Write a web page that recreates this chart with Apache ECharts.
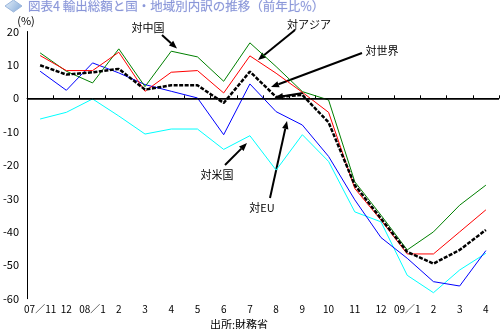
<!DOCTYPE html>
<html><head><meta charset="utf-8">
<script src="https://cdn.jsdelivr.net/npm/echarts@6/dist/echarts.min.js"></script>
<style>html,body{margin:0;padding:0;background:#fff}#c{width:500px;height:329px}</style>
</head><body><div id="c"></div>
<script>
var categories = ['07／11','12','08／1','2','3','4','5','6','7','8','9','10','11','12','09／1','2','3','4'];
var china  = [13.6, 8.1, 4.6, 14.8, 3.5, 14.1, 12.4, 5.1, 16.6, 9.5, 2.0, -0.5, -25.0, -35.0, -45.4, -40.0, -32.0, -26.0];
var asia   = [12.8, 8.3, 8.3, 13.8, 2.1, 7.8, 8.3, 1.6, 12.7, 7.5, 1.8, -4.2, -27.0, -36.5, -46.6, -46.6, -40.0, -33.4];
var world  = [9.9, 7.1, 7.8, 8.8, 2.6, 3.9, 3.9, -1.4, 8.0, 0.4, 1.0, -7.2, -26.0, -36.0, -46.0, -49.5, -45.4, -39.4];
var eu     = [8.1, 2.4, 10.6, 7.6, 4.1, 2.1, 0.1, -10.9, 4.3, -4.0, -8.0, -17.4, -30.4, -41.7, -47.9, -54.9, -56.2, -45.6];
var usa    = [-6.2, -4.2, -0.2, -5.3, -10.7, -9.2, -9.2, -15.3, -11.2, -21.5, -10.9, -18.9, -34.0, -37.0, -53.0, -58.2, -51.4, -46.4];
var yTicks = {min: -60, max: 20, interval: 10};
var FONT = '"Noto Sans CJK JP", sans-serif';

var chart = echarts.init(document.getElementById('c'), null, {renderer: 'canvas'});

function arrow(x1, y1, x2, y2) {
  var dx = x2 - x1, dy = y2 - y1, L = Math.sqrt(dx*dx + dy*dy);
  var ux = dx / L, uy = dy / L, hl = 8, hw = 3.2;
  var bx = x2 - ux*hl, by = y2 - uy*hl;
  return [
    {type: 'line', shape: {x1: x1, y1: y1, x2: bx, y2: by}, style: {stroke: '#000', lineWidth: 2}, silent: true},
    {type: 'polygon', shape: {points: [[x2, y2], [bx - uy*hw, by + ux*hw], [bx + uy*hw, by - ux*hw]]}, style: {fill: '#000'}, silent: true}
  ];
}
function txt(x, y, s, size, color) {
  return {type: 'text', x: x, y: y, style: {text: s, font: (size || 11) + 'px ' + FONT, fill: color || '#000', textAlign: 'center', textVerticalAlign: 'middle'}, silent: true};
}

var graphics = [];
graphics.push({type: 'polygon', shape: {points: [[13.5, 0], [22, 6], [13.5, 12], [5, 6]]},
  style: {fill: new echarts.graphic.LinearGradient(0, 0, 1, 1, [{offset: 0, color: '#e8f2fb'}, {offset: 1, color: '#7fa6d6'}]), stroke: '#9bb6dc', lineWidth: 1}, silent: true});
graphics.push({type: 'text', x: 28, y: 6.5, style: {text: '図表4 輸出総額と国・地域別内訳の推移（前年比%）', font: '12.5px ' + FONT, fill: '#8a96d8', textVerticalAlign: 'middle', stroke: '#dfe4f7', lineWidth: 0.5}, silent: true});
graphics.push(txt(26, 21, '(%)', 11));
graphics.push(txt(148, 28, '対中国', 11));
graphics.push(txt(309, 25, '対アジア', 11));
graphics.push(txt(382, 50.5, '対世界', 11));
graphics.push(txt(217, 175, '対米国', 11));
graphics.push(txt(262, 207.5, '対EU', 11));
graphics.push(txt(239, 324.5, '出所:財務省', 11));
graphics = graphics.concat(arrow(162, 35, 177, 48.5));
graphics = graphics.concat(arrow(295, 30, 258, 60));
graphics = graphics.concat(arrow(362, 53, 271, 87));
graphics = graphics.concat(arrow(303, 93, 275, 97.5));
graphics = graphics.concat(arrow(225, 165, 247, 143));
graphics = graphics.concat(arrow(270, 198, 287, 121));

function line(name, data, color, width, type, z) {
  return {name: name, type: 'line', data: data, symbol: 'none', z: z || 2, animation: false,
    lineStyle: {color: color, width: width, type: type || 'solid'}, itemStyle: {color: color}};
}

var series = [
  line('対米国', usa, '#00ffff', 1),
  line('対EU', eu, '#0000ff', 1),
  line('対中国', china, '#008000', 1),
  line('対アジア', asia, '#ff0000', 1),
  line('対世界', world, '#000000', 2.5, [4, 1.5], 3)
];
series[0].markLine = {silent: true, symbol: 'none', animation: false, label: {show: false},
  lineStyle: {color: '#000', width: 1.5, type: 'solid'}, data: [{yAxis: 0}]};

chart.setOption({
  animation: false,
  backgroundColor: '#fff',
  textStyle: {fontFamily: FONT},
  grid: {left: 24, right: 1, top: 31.5, bottom: 30.3, containLabel: false},
  xAxis: {type: 'category', data: categories, boundaryGap: true,
    axisLine: {lineStyle: {color: '#000', width: 1}},
    axisTick: {show: true, inside: true, length: 3, lineStyle: {color: '#000'}},
    axisLabel: {interval: 0, color: '#000', fontSize: 10, margin: 6, fontFamily: FONT},
    splitLine: {show: false}},
  yAxis: {type: 'value', min: yTicks.min, max: yTicks.max, interval: yTicks.interval,
    axisLine: {show: true, lineStyle: {color: '#000', width: 1}},
    axisTick: {show: false},
    axisLabel: {color: '#000', fontSize: 11, margin: 8, fontFamily: FONT},
    splitLine: {show: false}},
  series: series,
  graphic: graphics
});
</script></body></html>
